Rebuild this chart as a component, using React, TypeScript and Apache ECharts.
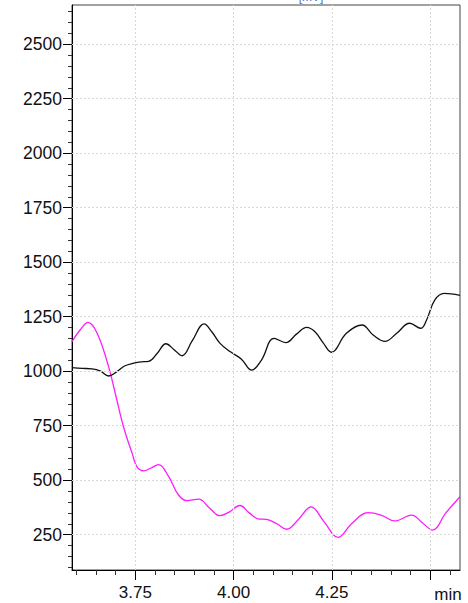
import React, { useEffect, useRef } from "react";
import * as echarts from "echarts";

// Black trace (time in min, signal)
const blackTime = [3.589, 3.615, 3.640, 3.662, 3.682, 3.703, 3.724, 3.759, 3.784, 3.805, 3.828, 3.848, 3.869, 3.895, 3.925, 3.945, 3.965, 3.991, 4.020, 4.046, 4.071, 4.103, 4.133, 4.160, 4.186, 4.207, 4.228, 4.249, 4.287, 4.327, 4.355, 4.385, 4.415, 4.448, 4.476, 4.491, 4.512, 4.536, 4.576];
const blackValue = [1016, 1013, 1011, 1000, 978, 998, 1025, 1042, 1045, 1080, 1126, 1100, 1071, 1140, 1217, 1180, 1129, 1090, 1055, 1005, 1051, 1151, 1131, 1170, 1201, 1181, 1130, 1087, 1174, 1212, 1166, 1137, 1174, 1220, 1197, 1235, 1327, 1357, 1348];

// Magenta trace
const magentaTime = [3.589, 3.610, 3.630, 3.653, 3.682, 3.699, 3.720, 3.742, 3.754, 3.771, 3.790, 3.809, 3.835, 3.860, 3.881, 3.911, 3.940, 3.965, 3.990, 4.016, 4.040, 4.062, 4.084, 4.110, 4.135, 4.165, 4.197, 4.230, 4.266, 4.300, 4.342, 4.375, 4.410, 4.453, 4.480, 4.506, 4.540, 4.576];
const magentaValue = [1135, 1190, 1224, 1174, 1021, 899, 745, 623, 562, 543, 556, 571, 516, 432, 406, 413, 370, 337, 355, 384, 350, 323, 320, 300, 275, 320, 378, 310, 238, 300, 351, 340, 313, 340, 305, 271, 350, 424];

const yMajor = [250, 500, 750, 1000, 1250, 1500, 1750, 2000, 2250, 2500];
const yMinor = Array.from({ length: 52 }, (_, i) => 100 + i * 50);
const xMajor = [3.75, 4.0, 4.25, 4.5];
const xMinor = [3.6, 3.65, 3.7, 3.75, 3.8, 3.85, 3.9, 3.95, 4.0, 4.05, 4.1, 4.15, 4.2, 4.25, 4.3, 4.35, 4.4, 4.45, 4.5, 4.55];
const xUnit = "min";
const titleText = "[mV]";

const Y_MIN = 88;
const Y_MAX = 2680;
const X_MIN = 3.589;
const X_MAX = 4.576;

const FONT = "'Liberation Sans', Arial, sans-serif";

export default function App() {
  const ref = useRef<HTMLDivElement>(null);
  useEffect(() => {
    if (!ref.current) return;
    const chart = echarts.init(ref.current, null, { renderer: "svg" });
    const gridLine = { color: "#d8d8d8", width: 1, type: [2, 2] as any };
    chart.setOption({
      animation: false,
      backgroundColor: "#ffffff",
      grid: { left: 72, top: 5, right: 8, bottom: 33, show: true, borderColor: "#444", borderWidth: 1 },
      graphic: [
        {
          type: "text",
          x: 311,
          y: 3,
          style: { text: titleText, fill: "#3b78c8", font: `12px ${FONT}`, align: "center", verticalAlign: "bottom" },
        },
        {
          type: "text",
          x: 448,
          y: 586,
          style: { text: xUnit, fill: "#111", font: `17px ${FONT}`, align: "center", verticalAlign: "top" },
        },
      ],
      xAxis: [
        {
          type: "value",
          min: X_MIN,
          max: X_MAX,
          axisLine: { show: true, onZero: false, lineStyle: { color: "#000", width: 1 } },
          axisTick: { show: true, customValues: xMinor, length: 5, lineStyle: { color: "#333" } },
          axisLabel: { show: false },
          splitLine: { show: false },
        },
        {
          type: "value",
          position: "bottom",
          min: X_MIN,
          max: X_MAX,
          axisLine: { show: false, onZero: false },
          axisTick: { show: true, customValues: xMajor, length: 10, lineStyle: { color: "#000" } },
          axisLabel: {
            show: true,
            customValues: xMajor,
            margin: 14,
            color: "#111",
            fontSize: 17,
            fontFamily: FONT,
            formatter: (v: number) => (Math.abs(v - 4.5) < 1e-6 ? "" : v.toFixed(2)),
          },
          splitLine: { show: false },
        },
      ],
      yAxis: [
        {
          type: "value",
          min: Y_MIN,
          max: Y_MAX,
          axisLine: { show: true, onZero: false, lineStyle: { color: "#000", width: 1 } },
          axisTick: { show: true, customValues: yMinor, length: 4, lineStyle: { color: "#333" } },
          axisLabel: { show: false },
          splitLine: { show: false },
        },
        {
          type: "value",
          position: "left",
          min: Y_MIN,
          max: Y_MAX,
          axisLine: { show: false, onZero: false },
          axisTick: { show: true, customValues: yMajor, length: 9, lineStyle: { color: "#000" } },
          axisLabel: {
            show: true,
            customValues: yMajor,
            margin: 10,
            color: "#111",
            fontSize: 17.5,
            fontFamily: FONT,
            formatter: (v: number) => String(Math.round(v)),
          },
          splitLine: { show: false },
        },
      ],
      series: [
        {
          type: "line",
          data: [],
          z: 1,
          silent: true,
          markLine: {
            silent: true,
            symbol: "none",
            label: { show: false },
            lineStyle: gridLine,
            data: [
              ...yMajor.map((v) => ({ yAxis: v })),
              ...xMajor.map((v) => ({ xAxis: v })),
            ],
          },
        },
        {
          type: "line",
          z: 3,
          data: blackTime.map((t, i) => [t, blackValue[i]]),
          smooth: 0.4,
          showSymbol: false,
          lineStyle: { color: "#111", width: 1.3 },
          itemStyle: { color: "#111" },
        },
        {
          type: "line",
          z: 2,
          data: magentaTime.map((t, i) => [t, magentaValue[i]]),
          smooth: 0.4,
          showSymbol: false,
          lineStyle: { color: "#ff1aff", width: 1.3 },
          itemStyle: { color: "#ff1aff" },
        },
      ],
    });
    return () => chart.dispose();
  }, []);
  return (
    <div
      ref={ref}
      style={{ position: "fixed", left: 0, top: 0, width: 468, height: 603 }}
    />
  );
}
